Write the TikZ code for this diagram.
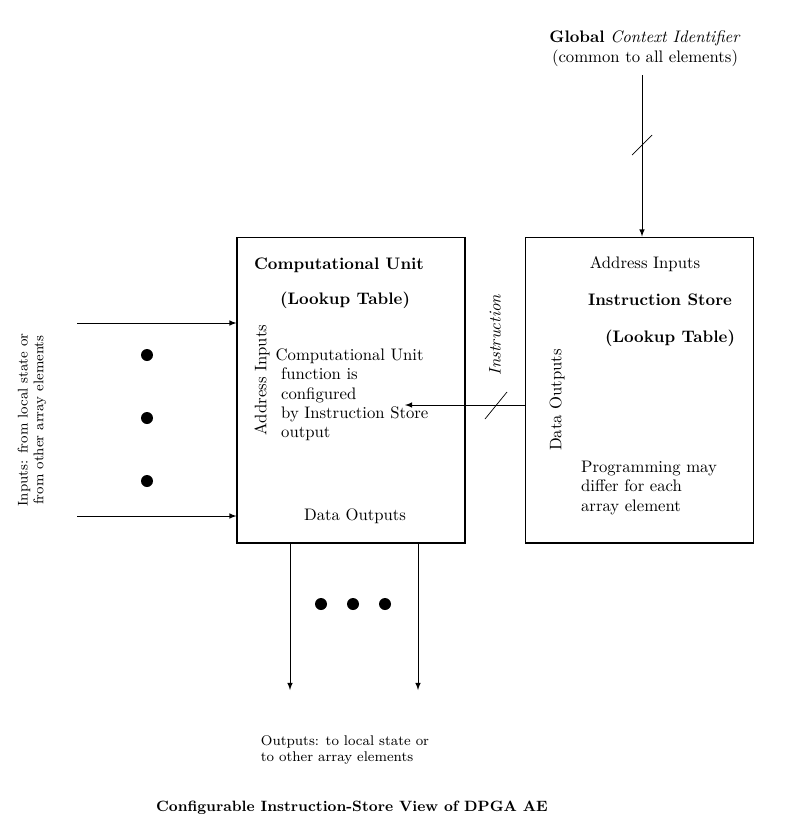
\documentclass[tikz,border=0pt]{standalone}
\usetikzlibrary{positioning}
\begin{document}
\begin{tikzpicture}[
    x=0.02cm, y=-0.02cm,
    every node/.style={font=\fontsize{9.5}{11}\selectfont},
    box/.style={draw, semithick, minimum width=4.56cm, minimum height=6.12cm, inner sep=0pt},
    sig/.style={draw, ->, >=latex},
    dot/.style={fill, circle, inner sep=0pt, minimum size=0.24cm}
  ]
  \useasboundingbox (0,0) rectangle (800,835);

  % boxes
  \node [box] (cu) at (351,390) {};
  \node [box] (is) at (639.5,390) {};

  % box texts
  \node [font=\bfseries\fontsize{9.5}{11}\selectfont] (cut) at (339,265) {Computational Unit};
  \node [font=\bfseries\fontsize{9.5}{11}\selectfont] (cul) at (345,300) {(Lookup Table)};
  \node [align=left] (cuf) at (352,395) {Computational Unit\\\ function is\\\ configured\\\ by Instruction Store\\\ output};
  \node [rotate=90] (cua) at (262,380) {Address Inputs};
  \node (cud) at (355,516) {Data Outputs};
  \node (isa) at (645,264) {Address Inputs};
  \node [font=\bfseries\fontsize{9.5}{11}\selectfont] (ist) at (660,300) {Instruction Store};
  \node [font=\bfseries\fontsize{9.5}{11}\selectfont] (isl) at (670,338) {(Lookup Table)};
  \node [rotate=90] (isd) at (557,400) {Data Outputs};
  \node [align=left] (isp) at (649,488) {Programming may\\differ for each\\array element};

  % context identifier
  \node (glob) at (645,38) {\textbf{Global} \textit{Context Identifier}};
  \node (comm) at (645,58) {(common to all elements)};
  \coordinate (ctop) at (642,75);
  \draw [sig] (ctop) -- (ctop |- is.north);
  \draw (632,155) -- (652,135);

  % instruction
  \coordinate (inst) at (405,405);
  \draw [sig] (inst -| is.west) -- (inst);
  \draw (485,419) -- (507,392);
  \node [rotate=90, font=\itshape\fontsize{9.5}{11}\selectfont] (instl) at (495,335) {Instruction};

  % inputs
  \coordinate (in1) at (77,323);
  \coordinate (in2) at (77,516);
  \draw [sig] (in1) -- (in1 -| cu.west);
  \draw [sig] (in2) -- (in2 -| cu.west);
  \foreach \y in {355, 418, 481}
    \node [dot] at (147,\y) {};
  \node [rotate=90, align=center, font=\fontsize{8}{9}\selectfont] (inl) at (32,420) {Inputs: from local state or\\from other array elements};

  % outputs
  \coordinate (out1) at (290,690);
  \coordinate (out2) at (418,690);
  \draw [sig] (out1 |- cu.south) -- (out1);
  \draw [sig] (out2 |- cu.south) -- (out2);
  \foreach \x in {321, 353, 385}
    \node [dot] at (\x,604) {};
  \node [align=left, font=\fontsize{8}{9}\selectfont] (outl) at (345,750) {Outputs: to local state or\\to other array elements};

  % caption
  \node [font=\bfseries\fontsize{8.5}{10}\selectfont] (cap) at (352,808) {Configurable Instruction-Store View of DPGA AE};
\end{tikzpicture}
\end{document}
